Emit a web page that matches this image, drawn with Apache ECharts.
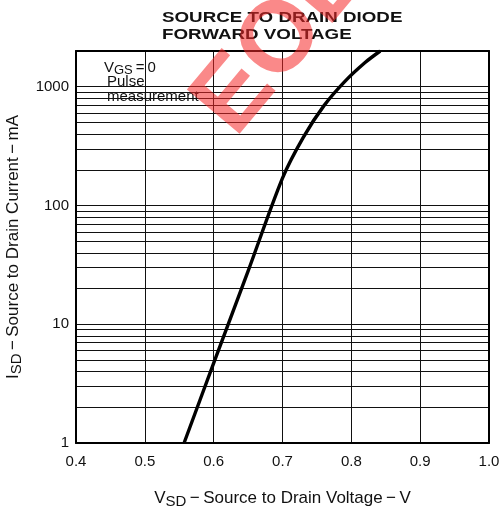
<!DOCTYPE html>
<html>
<head>
<meta charset="utf-8">
<script src="https://cdn.jsdelivr.net/npm/echarts@6/dist/echarts.min.js"></script>
<style>
  html, body { margin: 0; padding: 0; background: #fff; }
  #chart { width: 502px; height: 514px; }
</style>
</head>
<body>
<div id="chart"></div>
<script>
// forward voltage (V) vs diode current (mA)
const voltage = [0.557, 0.600, 0.650, 0.700, 0.730, 0.760, 0.790, 0.820, 0.842];
const current = [1, 4.7, 28, 170, 373, 690, 1100, 1600, 2000];

// grid lines
const decadeLines = [10, 100, 1000];
const minorLines = [2, 3, 4, 5, 6, 7, 8, 9,
  20, 30, 40, 50, 60, 70, 80, 90,
  200, 300, 400, 500, 600, 700, 800, 900];
const voltLines = [0.5, 0.6, 0.7, 0.8, 0.9];
const decadeLabels = [1, 10, 100, 1000];
const xTicks = [0.4, 0.5, 0.6, 0.7, 0.8, 0.9, 1.0];

const chart = echarts.init(document.getElementById('chart'));

const font = 'Liberation Sans, Arial, sans-serif';
const nameRich = {
  v: { fontFamily: font, fontSize: 17, color: '#111' },
  sub: { fontFamily: font, fontSize: 15, color: '#111', padding: [7, 0, 0, 0] },
  t: { fontFamily: font, fontSize: 17, color: '#111' }
};
const border = { show: true, lineStyle: { color: '#000', width: 2 } };

const option = {
  backgroundColor: '#fff',
  animation: false,
  grid: { left: 76, right: 13, top: 51, bottom: 71, outerBoundsMode: 'none', containLabel: false },
  xAxis: [
    {
      type: 'value',
      min: 0.4, max: 1.0, interval: 0.1,
      z: 20,
      name: '{v|V}{sub|SD}{t|\u2009\u2212\u2009Source to Drain Voltage\u2009\u2212\u2009V}',
      nameLocation: 'middle',
      nameGap: 44,
      nameTextStyle: { rich: nameRich },
      axisLine: border,
      axisTick: { show: false },
      axisLabel: {
        margin: 11, color: '#111', fontFamily: font, fontSize: 15,
        formatter: v => xTicks.some(t => Math.abs(t - v) < 1e-6) ? v.toFixed(1) : ''
      },
      splitLine: { show: false }
    },
    {
      type: 'value', position: 'top', min: 0, max: 1, z: 20,
      axisLine: border, axisTick: { show: false }, axisLabel: { show: false },
      splitLine: { show: false }
    }
  ],
  yAxis: [
    {
      type: 'log',
      logBase: 10,
      min: 1, max: 2000,
      z: 20,
      name: '{v|I}{sub|SD}{t|\u2009\u2212\u2009Source to Drain Current\u2009\u2212\u2009mA}',
      nameLocation: 'middle',
      nameGap: 49,
      nameTextStyle: { rich: nameRich },
      axisLine: border,
      axisTick: { show: false },
      axisLabel: {
        margin: 7, color: '#111', fontFamily: font, fontSize: 15,
        formatter: v => decadeLabels.includes(Math.round(v)) && Math.abs(Math.round(v) - v) < 1e-3 ? String(Math.round(v)) : ''
      },
      splitLine: { show: false }
    },
    {
      type: 'value', position: 'right', min: 0, max: 1, z: 20,
      axisLine: border, axisTick: { show: false }, axisLabel: { show: false },
      splitLine: { show: false }
    }
  ],
  series: [
    {
      name: 'grid',
      type: 'line',
      data: [],
      silent: true,
      z: 1,
      markLine: {
        silent: true,
        symbol: 'none',
        animation: false,
        label: { show: false },
        lineStyle: { color: '#111', width: 1, type: 'solid' },
        data: decadeLines.concat(minorLines).map(v => ({ yAxis: v }))
          .concat(voltLines.map(v => ({ xAxis: v })))
      }
    },
    {
      name: 'box',
      type: 'line',
      data: [],
      silent: true,
      z: 5,
      markArea: {
        silent: true,
        itemStyle: { color: '#fff' },
        data: [[{ xAxis: 0.4, yAxis: 730 }, { xAxis: 0.6, yAxis: 2000 }]]
      }
    },
    {
      name: 'ISD',
      type: 'line',
      z: 10,
      smooth: 0.3,
      showSymbol: false,
      lineStyle: { color: '#000', width: 3.4 },
      data: voltage.map((v, i) => [v, current[i]])
    }
  ],
  graphic: [
    {
      type: 'text', x: 162, y: 10, z: 20, scaleX: 1.34,
      style: {
        text: 'SOURCE TO DRAIN DIODE\nFORWARD VOLTAGE',
        fill: '#111',
        font: 'bold 14px "Liberation Sans", sans-serif',
        lineHeight: 16.5
      }
    },
    {
      type: 'text', x: 104, y: 58, z: 20,
      style: {
        text: '{v|V}{sub|GS}{t|\u2009=\u20090}',
        rich: {
          v: { fontFamily: font, fontSize: 15, fill: '#111' },
          sub: { fontFamily: font, fontSize: 13, fill: '#111', padding: [6, 0, 0, 0] },
          t: { fontFamily: font, fontSize: 15, fill: '#111' }
        }
      }
    },
    {
      type: 'text', x: 107, y: 74, z: 20,
      style: { text: 'Pulse\nmeasurement', font: '15px ' + font, fill: '#111', lineHeight: 15 }
    },
    {
      type: 'text', x: 214, y: 121, z: 30, rotation: 50 * Math.PI / 180,
      style: {
        text: 'EOL',
        font: 'bold 100px "Liberation Sans", sans-serif',
        fill: 'rgba(245,40,40,0.55)',
        textVerticalAlign: 'middle'
      }
    }
  ]
};

chart.setOption(option);
</script>
</body>
</html>
